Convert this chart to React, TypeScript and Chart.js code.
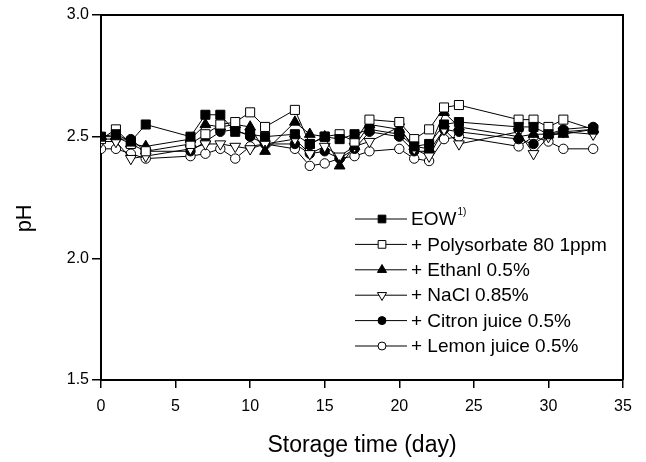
import React, { useEffect, useRef } from "react";
import { Chart, registerables } from "chart.js";

Chart.register(...registerables);

const days = [0, 1, 2, 3, 6, 7, 8, 9, 10, 11, 13, 14, 15, 16, 17, 18, 20, 21, 22, 23, 24, 28, 29, 30, 31, 33];

const eow = [2.50, 2.51, 2.48, 2.55, 2.50, 2.59, 2.59, 2.52, 2.51, 2.50, 2.51, 2.47, 2.50, 2.49, 2.51, 2.53, 2.51, 2.46, 2.47, 2.55, 2.56, 2.54, 2.54, 2.51, 2.52, 2.53];
const polysorbate = [2.49, 2.53, 2.47, 2.44, 2.47, 2.51, 2.55, 2.56, 2.60, 2.54, 2.61, 2.47, 2.50, 2.51, 2.48, 2.57, 2.56, 2.49, 2.53, 2.62, 2.63, 2.57, 2.57, 2.54, 2.57, 2.53];
const ethanol = [2.50, 2.50, 2.47, 2.46, 2.49, 2.55, 2.54, 2.55, 2.54, 2.44, 2.56, 2.51, 2.50, 2.38, 2.46, 2.55, 2.53, 2.46, 2.45, 2.60, 2.54, 2.50, 2.51, 2.51, 2.51, 2.53];
const nacl = [2.48, 2.48, 2.41, 2.42, 2.45, 2.47, 2.47, 2.46, 2.45, 2.47, 2.49, 2.43, 2.46, 2.42, 2.46, 2.48, 2.54, 2.45, 2.42, 2.53, 2.47, 2.52, 2.43, 2.50, 2.52, 2.51];
const citron = [2.49, 2.49, 2.49, 2.44, 2.44, 2.48, 2.52, 2.53, 2.50, 2.47, 2.47, 2.43, 2.44, 2.41, 2.45, 2.52, 2.50, 2.44, 2.44, 2.53, 2.52, 2.49, 2.47, 2.51, 2.53, 2.54];
const lemon = [2.45, 2.45, 2.43, 2.41, 2.42, 2.43, 2.45, 2.41, 2.46, 2.47, 2.45, 2.38, 2.39, 2.41, 2.42, 2.44, 2.45, 2.41, 2.40, 2.49, 2.50, 2.46, 2.50, 2.48, 2.45, 2.45];

const seriesLabels = ["EOW", "+ Polysorbate 80 1ppm", "+ Ethanl 0.5%", "+ NaCl 0.85%", "+ Citron juice 0.5%", "+ Lemon juice 0.5%"];
const seriesValues = [eow, polysorbate, ethanol, nacl, citron, lemon];
const xTicks = [0, 5, 10, 15, 20, 25, 30, 35];
const yTicks = [1.5, 2.0, 2.5, 3.0];
const yTitle = "pH";
const xTitle = "Storage time (day)";

type Marker = { style: string; filled: boolean; radius: number; rotation: number };
const markers: Marker[] = [
  { style: "rect", filled: true, radius: 6.4, rotation: 0 },
  { style: "rect", filled: false, radius: 6.4, rotation: 0 },
  { style: "triangle", filled: true, radius: 6.2, rotation: 0 },
  { style: "triangle", filled: false, radius: 6.2, rotation: 180 },
  { style: "circle", filled: true, radius: 4.7, rotation: 0 },
  { style: "circle", filled: false, radius: 4.7, rotation: 0 },
];

const FONT = "'Liberation Sans', Arial, sans-serif";

function drawMarker(ctx: CanvasRenderingContext2D, m: Marker, x: number, y: number) {
  ctx.save();
  ctx.beginPath();
  const r = m.radius;
  if (m.style === "rect") {
    const s = Math.SQRT1_2 * r;
    ctx.rect(x - s, y - s, 2 * s, 2 * s);
  } else if (m.style === "circle") {
    ctx.arc(x, y, r, 0, Math.PI * 2);
  } else {
    const dir = m.rotation === 180 ? -1 : 1;
    ctx.moveTo(x, y - dir * r);
    ctx.lineTo(x + r * Math.sin(Math.PI / 3), y + dir * r / 2);
    ctx.lineTo(x - r * Math.sin(Math.PI / 3), y + dir * r / 2);
    ctx.closePath();
  }
  ctx.fillStyle = m.filled ? "#000" : "#fff";
  ctx.fill();
  ctx.lineWidth = 1;
  ctx.strokeStyle = "#000";
  ctx.stroke();
  ctx.restore();
}

const framePlugin = {
  id: "frame",
  afterDraw(chart: any) {
    const { ctx, chartArea } = chart;
    ctx.save();
    ctx.strokeStyle = "#000";
    ctx.lineWidth = 2;
    ctx.beginPath();
    ctx.moveTo(chartArea.left, chartArea.top);
    ctx.lineTo(chartArea.right, chartArea.top);
    ctx.lineTo(chartArea.right, chartArea.bottom);
    ctx.stroke();
    // y axis title, placed slightly below the axis centre as in the original figure
    ctx.fillStyle = "#000";
    ctx.font = `22px ${FONT}`;
    ctx.textAlign = "center";
    ctx.textBaseline = "middle";
    ctx.translate(25, chartArea.top + (chartArea.bottom - chartArea.top) * 0.557);
    ctx.rotate(-Math.PI / 2);
    ctx.fillText(yTitle, 0, 0);
    ctx.restore();
  },
};

const legendPlugin = {
  id: "innerLegend",
  afterDraw(chart: any) {
    const { ctx } = chart;
    const x0 = 355, x1 = 407, xm = 382, xt = 411;
    const yStart = 219, dy = 25.4;
    ctx.save();
    seriesLabels.forEach((label, i) => {
      const y = yStart + i * dy;
      ctx.strokeStyle = "#000";
      ctx.lineWidth = 1;
      ctx.beginPath();
      ctx.moveTo(x0, y);
      ctx.lineTo(x1, y);
      ctx.stroke();
      drawMarker(ctx, { ...markers[i], radius: markers[i].radius * 0.85 }, xm, y);
      ctx.fillStyle = "#000";
      ctx.font = `19px ${FONT}`;
      ctx.textBaseline = "middle";
      ctx.textAlign = "left";
      ctx.fillText(label, xt, y + 1);
      if (i === 0) {
        const w = ctx.measureText(label).width;
        ctx.font = `10px ${FONT}`;
        ctx.fillText("1)", xt + w + 1, y - 7);
      }
    });
    ctx.restore();
  },
};

export default function App() {
  const ref = useRef<HTMLCanvasElement | null>(null);

  useEffect(() => {
    if (!ref.current) return;
    const datasets = seriesLabels.map((label, i) => ({
      label,
      data: days.map((d, j) => ({ x: d, y: seriesValues[i][j] })),
      borderColor: "#000",
      borderWidth: 1,
      backgroundColor: markers[i].filled ? "#000" : "#fff",
      pointBackgroundColor: markers[i].filled ? "#000" : "#fff",
      pointBorderColor: "#000",
      pointBorderWidth: 1,
      pointStyle: markers[i].style,
      pointRadius: markers[i].radius,
      pointRotation: markers[i].rotation,
      pointHoverRadius: markers[i].radius,
      fill: false,
      tension: 0,
      showLine: true,
    }));
    const chart = new Chart(ref.current, {
      type: "line",
      data: { datasets: datasets as any },
      options: {
        animation: false,
        responsive: false,
        devicePixelRatio: 1,
        layout: { padding: { top: 15, right: 23, left: 0, bottom: 0 } },
        plugins: { legend: { display: false }, tooltip: { enabled: false } },
        scales: {
          x: {
            type: "linear",
            min: 0,
            max: 35,
            afterBuildTicks: (scale: any) => {
              scale.ticks = xTicks.map((v) => ({ value: v }));
            },
            afterFit: (scale: any) => {
              scale.height = 82;
            },
            ticks: {
              color: "#000",
              font: { family: FONT, size: 16 },
              padding: 9,
              maxRotation: 0,
              autoSkip: false,
            },
            grid: { drawOnChartArea: false, drawTicks: true, tickLength: 8, color: "#000", lineWidth: 1.5 },
            border: { display: true, color: "#000", width: 2 },
            title: {
              display: true,
              text: xTitle,
              color: "#000",
              font: { family: FONT, size: 23 },
              padding: { top: 4, bottom: 3 },
            },
          },
          y: {
            type: "linear",
            min: 1.5,
            max: 3.0,
            afterBuildTicks: (scale: any) => {
              scale.ticks = yTicks.map((v) => ({ value: v }));
            },
            afterFit: (scale: any) => {
              scale.width = 101;
            },
            ticks: {
              color: "#000",
              font: { family: FONT, size: 16 },
              padding: 3,
              callback: (v: any) => Number(v).toFixed(1),
            },
            grid: { drawOnChartArea: false, drawTicks: true, tickLength: 9, color: "#000", lineWidth: 1.5 },
            border: { display: true, color: "#000", width: 2 },
            title: { display: false },
          },
        },
      },
      plugins: [framePlugin, legendPlugin],
    });
    return () => chart.destroy();
  }, []);

  return (
    <div style={{ position: "absolute", left: 0, top: 0, width: 646, height: 462, background: "#fff" }}>
      <canvas ref={ref} width={646} height={462} style={{ width: 646, height: 462, display: "block" }} />
    </div>
  );
}
